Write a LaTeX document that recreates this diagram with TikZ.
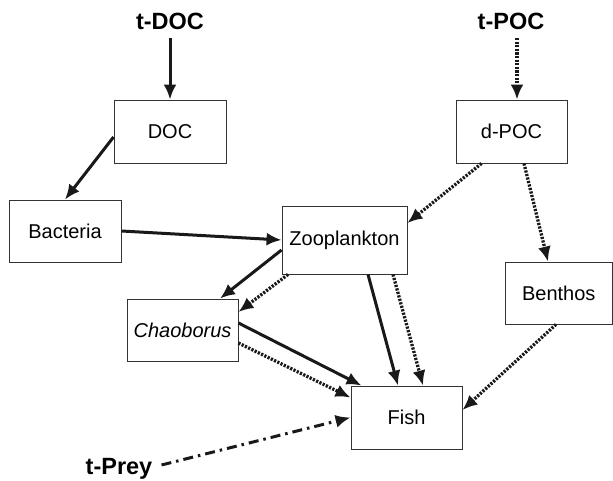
\documentclass[tikz,border=0pt]{standalone}
\usepackage{fontspec}
\setmainfont{Liberation Sans}
\usetikzlibrary{arrows.meta,calc}
\tikzset{
  box/.style={draw=black!80, line width=0.9pt, fill=white, inner sep=0pt, anchor=center,
    font=\fontsize{20}{24}\selectfont},
  src/.style={inner sep=0pt, font=\fontsize{23.5}{28}\selectfont\bfseries},
  tip/.style={-{Latex[length=15pt,width=13pt]}},
  solidarrow/.style={tip, line width=3pt, draw=black!90},
  dotarrow/.style={tip, line width=3.3pt, draw=black!90, dash pattern=on 2.2pt off 1.4pt},
  dasharrow/.style={tip, line width=3pt, draw=black!90, dash pattern=on 10pt off 5pt on 2.5pt off 5pt},
}
\begin{document}
\begin{tikzpicture}[x=1pt,y=-1pt]
\useasboundingbox (0,0) rectangle (613,481);
% sources
\node[src] (tDOC) at (170,21) {t-DOC};
\node[src] (tPOC) at (511,21) {t-POC};
\node[src] (tPrey) at (119,469) {t-Prey};
% boxes
\node[box, minimum width=112pt, minimum height=63pt] (DOC) at (170,131.5) {DOC};
\node[box, minimum width=111pt, minimum height=63pt] (dPOC) at (511.5,131.5) {d-POC};
\node[box, minimum width=112pt, minimum height=62pt] (Bact) at (65,231) {Bacteria};
\node[box, minimum width=125pt, minimum height=68pt] (Zoo) at (344.5,240) {Zooplankton};
\node[box, minimum width=111pt, minimum height=62pt] (Chaob) at (182.5,330) {\itshape Chaoborus};
\node[box, minimum width=107.5pt, minimum height=62pt] (Benth) at (558.75,293) {Benthos};
\node[box, minimum width=111pt, minimum height=63pt] (Fish) at (406.5,417.5) {Fish};
% connectors
\draw[solidarrow] ([yshift=-17pt]tDOC.center) -- (DOC.north);
\draw[dotarrow] ([xshift=6pt,yshift=-17pt]tPOC.center) -- ([xshift=5.5pt]dPOC.north);
\draw[solidarrow] ([yshift=-5.5pt]DOC.west) -- (Bact.north);
\draw[solidarrow] (Bact.east) -- (Zoo.west);
\draw[dotarrow] ([xshift=-30pt]dPOC.south) -- ([yshift=17pt]Zoo.east);
\draw[dotarrow] ([xshift=12.5pt]dPOC.south) -- ([xshift=-10.75pt]Benth.north);
\draw[solidarrow] ([yshift=-10pt]Zoo.west) -- ([xshift=37.5pt]Chaob.north);
\draw[dotarrow] ([xshift=-56.5pt]Zoo.south) -- ([yshift=18pt]Chaob.east);
\draw[solidarrow] ([yshift=7pt]Chaob.east) -- ([xshift=11pt]Fish.north west);
\draw[dotarrow] ([yshift=-13pt]Chaob.east) -- ([yshift=-12pt]Fish.north west);
\draw[solidarrow] ([xshift=23.5pt]Zoo.south) -- ([xshift=-8.5pt]Fish.north);
\draw[dotarrow] ([xshift=48.5pt]Zoo.south) -- ([xshift=16.5pt]Fish.north);
\draw[dotarrow] ([xshift=-2.75pt]Benth.south) -- ([yshift=7.5pt]Fish.east);
\draw[dasharrow] ([xshift=9pt,yshift=4pt]tPrey.east) -- (Fish.west);
\end{tikzpicture}
\end{document}
